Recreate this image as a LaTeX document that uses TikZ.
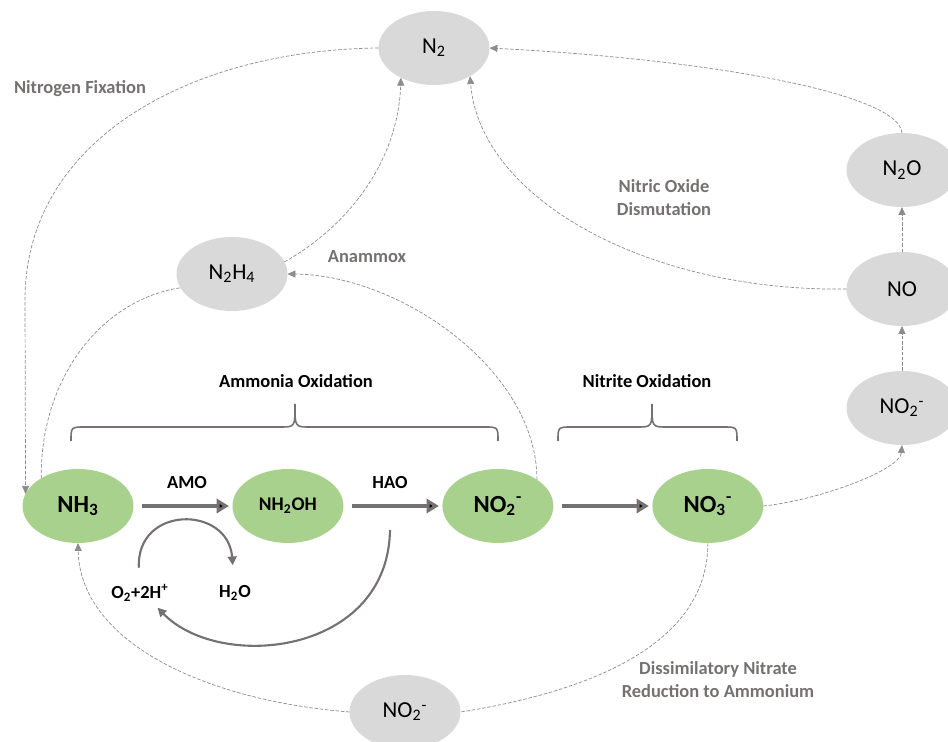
\documentclass[tikz,border=0pt]{standalone}
\usepackage{fontspec}
\setmainfont{Carlito}
\usetikzlibrary{shapes.geometric,arrows.meta,positioning}
\definecolor{gasgray}{HTML}{D9D9D9}
\definecolor{leafgreen}{HTML}{A9D18E}
\definecolor{inkgray}{HTML}{767171}
\definecolor{dashgray}{HTML}{8C8C8C}

\begin{document}
\begin{tikzpicture}[x=0.02cm,y=-0.02cm]
\tikzstyle{gas}=[ellipse, fill=gasgray, inner sep=0pt, outer sep=0pt,
minimum width=2.22cm, minimum height=1.48cm, node distance=2.38cm,
font=\fontsize{13}{15}\selectfont]
\tikzstyle{ox}=[ellipse, fill=leafgreen, inner sep=0pt, outer sep=0pt,
minimum width=2.22cm, minimum height=1.48cm, node distance=4.2cm,
font=\bfseries\fontsize{14}{16}\selectfont]
\tikzstyle{route}=[draw=dashgray, line width=0.4pt, dash pattern=on 2pt off 1pt]
\tikzstyle{routeto}=[route, -{Triangle[length=4.5pt,width=4pt]}]
\tikzstyle{bigarrow}=[draw=inkgray, line width=2.3pt,
-{Triangle[length=7pt,width=8pt]}, shorten <=5pt, shorten >=2pt]
\tikzstyle{cycarrow}=[draw=inkgray, line width=1.2pt, -{Triangle[length=5pt,width=5pt]}]
\tikzstyle{brace}=[draw=inkgray, line width=0.9pt]
\tikzstyle{proc}=[font=\bfseries\fontsize{10.5}{13}\selectfont, align=center]
\tikzstyle{greyproc}=[proc, text=inkgray]

\useasboundingbox (0,0) rectangle (948,742);

% main oxidation row
\node[ox] at (78,506) (nh3) {NH\textsubscript{3}};
\node[ox,right of =nh3,font=\bfseries\fontsize{11}{13}\selectfont] (nh2oh) {NH\textsubscript{2}OH};
\node[ox,right of =nh2oh] (no2) {NO\textsubscript{2}\textsuperscript{-}};
\node[ox,right of =no2] (no3) {NO\textsubscript{3}\textsuperscript{-}};

% gray species
\node[gas] at (434,48) (n2) {N\textsubscript{2}};
\node[gas] at (232,274) (n2h4) {N\textsubscript{2}H\textsubscript{4}};
\node[gas] at (902,408) (no2r) {NO\textsubscript{2}\textsuperscript{-}};
\node[gas,above of =no2r] (no) {NO};
\node[gas,above of =no] (n2o) {N\textsubscript{2}O};
\node[gas] at (405,712) (no2b) {NO\textsubscript{2}\textsuperscript{-}};

\node[greyproc] at (80,89) (fixlbl) {Nitrogen Fixation};
\node[greyproc] at (367,257) (anamlbl) {Anammox};
\node[greyproc] at (664,198) (dismlbl) {Nitric Oxide\\Dismutation};
\node[greyproc] at (718,680) (dnralbl) {Dissimilatory Nitrate\\Reduction to Ammonium};
\node[proc] at (296,381) (amolbl) {Ammonia Oxidation};
\node[proc] at (647,381) (nitlbl) {Nitrite Oxidation};
\node[proc] at (187,483) (amo) {AMO};
\node[proc] at (390,483) (hao) {HAO};
\node[proc] at (140,593) (o2) {O\textsubscript{2}+2H\textsuperscript{+}};
\node[proc] at (235,593) (h2o) {H\textsubscript{2}O};
\coordinate (haoout) at (390,530);

\draw[brace] (71,441) .. controls (71,427) .. (85,427) -- (281,427)
  .. controls (295,427) .. (295,404) .. controls (295,427) .. (309,427)
  -- (484,427) .. controls (498,427) .. (498,441);
\draw[brace] (558,441) .. controls (558,427) .. (572,427) -- (638,427)
  .. controls (652,427) .. (652,404) .. controls (652,427) .. (666,427)
  -- (723,427) .. controls (737,427) .. (737,441);

\path[bigarrow] (nh3) edge (nh2oh);
\path[bigarrow] (nh2oh) edge (no2);
\path[bigarrow] (no2) edge (no3);

\draw[cycarrow, shorten <=6pt, shorten >=8pt] (o2) .. controls (136,505) and (228,505) .. (h2o);
\draw[cycarrow] (haoout) .. controls (388,655) and (220,672) .. (o2.-40);

\draw[routeto] (n2.west) .. controls (190,50) and (25,140) .. (25,300) -- (nh3.167);
\draw[route] (nh3.143) .. controls (40,380) and (100,300) .. (n2h4.195);
\draw[routeto] (no2.34) .. controls (537,370) and (400,275) .. (n2h4.east);
\draw[routeto] (n2h4.13) .. controls (350,225) and (398,160) .. (n2.222);
\draw[routeto] (no.west) .. controls (650,292) and (480,200) .. (n2.-38);
\draw[routeto] (n2o.north) .. controls (900,95) and (720,60) .. (n2.east);
\draw[routeto] (no.north) -- (n2o.south);
\draw[routeto] (no2r.north) -- (no.south);
\draw[routeto] (no3.east) .. controls (820,500) and (900,470) .. (no2r.south);
\draw[route] (no3.south) .. controls (708,640) and (600,690) .. (no2b.east);
\draw[routeto] (no2b.west) .. controls (200,700) and (80,640) .. (nh3.south);

\end{tikzpicture}
\end{document}
